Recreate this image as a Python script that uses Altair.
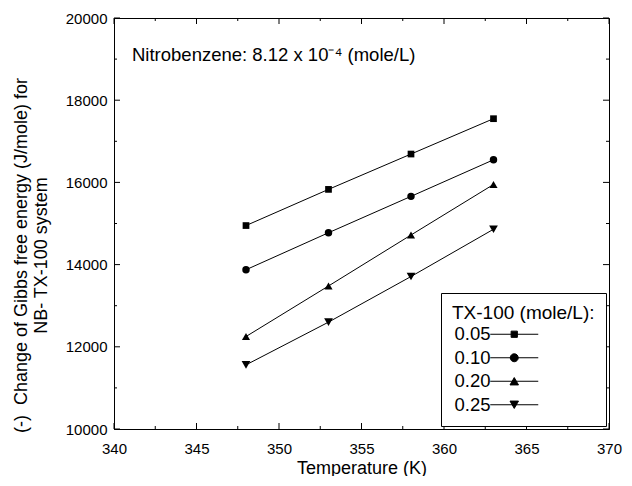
import altair as alt
import pandas as pd

# ---- data ----
temperature = [348, 353, 358, 363]
series_labels = ["0.05", "0.10", "0.20", "0.25"]
g_005 = [14950, 15830, 16690, 17550]
g_010 = [13875, 14775, 15660, 16550]
g_020 = [12250, 13480, 14720, 15950]
g_025 = [11560, 12600, 13710, 14860]

x_major = [340, 345, 350, 355, 360, 365, 370]
x_minor = [342.5, 347.5, 352.5, 357.5, 362.5, 367.5]
y_major = [10000, 12000, 14000, 16000, 18000, 20000]
y_minor = [11000, 13000, 15000, 17000, 19000]

annotation = ["Nitrobenzene: 8.12 x 10\u207b\u2074 (mole/L)"]

rows = []
for lab, vals in zip(series_labels, [g_005, g_010, g_020, g_025]):
    for t, v in zip(temperature, vals):
        rows.append({"T": t, "G": v, "series": lab})
df = pd.DataFrame(rows)

FONT = "Liberation Sans"
W, H = 495, 411
MAJ, MIN = 6, 3

x_scale = alt.Scale(domain=[340, 370], nice=False, zero=False)
y_scale = alt.Scale(domain=[10000, 20000], nice=False, zero=False)

x_axis = alt.Axis(orient="bottom", values=x_major, format="d", ticks=False,
                  labelPadding=12, labelFlush=False, labelOverlap=False,
                  title="Temperature (K)", titleFontSize=18, titleY=44,
                  titleBaseline="alphabetic")
y_axis = alt.Axis(orient="left", values=y_major, format="d", ticks=False,
                  labelPadding=7, labelFlush=False, labelOverlap=False,
                  title=["(-)\u00a0\u00a0Change of Gibbs free energy (J/mole) for",
                         "NB- TX-100 system"],
                  titleFontSize=18, titleAngle=270, titleX=-93, titleY=237,
                  titleAlign="center", titleBaseline="middle", titleLineHeight=20)


def X(field):
    return alt.X(field, scale=x_scale, axis=x_axis)


def Y(field):
    return alt.Y(field, scale=y_scale, axis=y_axis)


lines = alt.Chart(df).mark_line(color="black", strokeWidth=1).encode(
    x=X("T:Q"), y=Y("G:Q"), detail="series:N"
)

points = alt.Chart(df).mark_point(filled=True, color="black", opacity=1).encode(
    x=X("T:Q"), y=Y("G:Q"),
    shape=alt.Shape("series:N",
                    scale=alt.Scale(domain=series_labels,
                                    range=["square", "circle", "triangle-up", "triangle-down"]),
                    legend=None),
    size=alt.Size("series:N",
                  scale=alt.Scale(domain=series_labels, range=[45, 76, 86, 86]),
                  legend=None),
)


# inward tick marks on all four sides, placed through the scales
def xticks(values, length):
    base = alt.Chart(pd.DataFrame({"v": values})).mark_rule(color="black", strokeWidth=1)
    return [base.encode(x=X("v:Q"), y=alt.value(H), y2=alt.value(H - length)),
            base.encode(x=X("v:Q"), y=alt.value(0), y2=alt.value(length))]


def yticks(values, length):
    base = alt.Chart(pd.DataFrame({"v": values})).mark_rule(color="black", strokeWidth=1)
    return [base.encode(y=Y("v:Q"), x=alt.value(0), x2=alt.value(length)),
            base.encode(y=Y("v:Q"), x=alt.value(W), x2=alt.value(W - length))]


tick_layers = xticks(x_major, MAJ) + xticks(x_minor, MIN) + yticks(y_major, MAJ) + yticks(y_minor, MIN)

legend_paths = [
    "M-6,0H6M-0.78,-0.78H0.78V0.78H-0.78Z",
    "M-6,0H6M1,0A1,1,0,1,1,-1,0A1,1,0,1,1,1,0Z",
    "M-6,0H6M0,-0.92L1.06,0.92H-1.06Z",
    "M-6,0H6M0,0.92L1.06,-0.92H-1.06Z",
]

legend_layer = alt.Chart(df).transform_filter("false").mark_point(
    filled=False, fill="black", stroke="black", strokeWidth=1, size=64,
    opacity=1, fillOpacity=1, strokeOpacity=1
).encode(
    shape=alt.Shape(
        "series:N",
        scale=alt.Scale(domain=series_labels, range=legend_paths),
        legend=alt.Legend(
            title="TX-100 (mole/L):", orient="none", legendX=327, legendY=275,
            direction="vertical", padding=11, strokeColor="black", fillColor="white",
            titleFontSize=19, titleFont=FONT, titleFontWeight="normal", titleColor="black",
            titlePadding=2, titleLimit=400,
            labelFontSize=18.5, labelFont=FONT, labelColor="black",
            labelOffset=alt.ExprRef(expr="-69"), labelAlign="left",
            symbolOffset=53, symbolSize=64, symbolStrokeWidth=1,
            rowPadding=4.5,
        ),
    )
)

annot = alt.Chart(pd.DataFrame({"t": annotation})).mark_text(
    align="left", baseline="alphabetic", fontSize=18.5, font=FONT, color="black"
).encode(x=alt.value(18), y=alt.value(43), text="t:N")

chart = alt.layer(lines, points, *tick_layers, legend_layer, annot).resolve_scale(
    shape="independent", size="independent"
).properties(
    width=W, height=H,
    autosize=alt.AutoSizeParams(type="none"),
    padding={"left": 106, "top": 10, "right": 15, "bottom": 47},
).configure_view(
    stroke="black", strokeWidth=1
).configure_axis(
    grid=False, domainColor="black", domainWidth=1,
    labelColor="black", labelFont=FONT, labelFontSize=15,
    titleColor="black", titleFont=FONT, titleFontWeight="normal",
)

chart.save("out.html", embed_options={"renderer": "svg", "actions": False})
